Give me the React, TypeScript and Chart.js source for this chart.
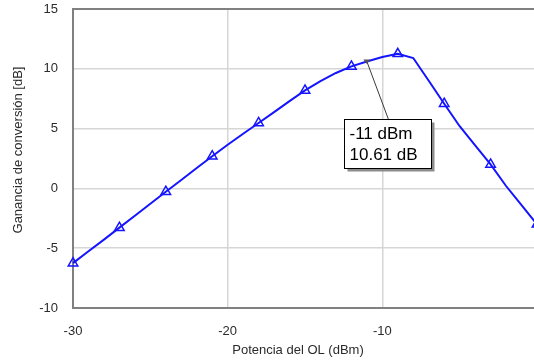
import React, { useEffect, useRef } from 'react';
import { Chart, registerables } from 'chart.js';

Chart.register(...registerables);

// LO power sweep (dBm) and measured conversion gain (dB)
const powerDbm = [
  -30, -29, -28, -27, -26, -25, -24, -23, -22, -21, -20, -19, -18, -17, -16,
  -15, -14, -13, -12, -11, -10, -9, -8, -7, -6, -5, -4, -3, -2, -1, 0,
];
const gainDb = [
  -6.25, -5.25, -4.28, -3.28, -2.28, -1.28, -0.28, 0.7, 1.7, 2.69, 3.65, 4.57,
  5.47, 6.38, 7.3, 8.19, 8.97, 9.65, 10.2, 10.61, 10.98, 11.25, 10.9, 9.0, 7.08,
  5.2, 3.6, 2.0, 0.2, -1.4, -3.0,
];

// a triangle marker every third sample
const markerEvery = 3;

const xTicks = [-30, -20, -10, 0];
const yTicks = [-10, -5, 0, 5, 10, 15];

// sample highlighted by the marker readout
const readoutPower = -11;

const xTitle = 'Potencia del OL (dBm)';
const yTitle = 'Ganancia de conversión [dB]';

const FONT = "'Liberation Sans', Arial, sans-serif";
const AXIS_COLOR = '#808080';
const GRID_COLOR = '#d6d6d6';
const TEXT_COLOR = '#2b2b2b';
const LINE_COLOR = '#1414ff';

const overlay = {
  id: 'overlay',
  afterDraw(chart: any) {
    const { ctx, scales } = chart;
    const xs = scales.x;
    const ys = scales.y;
    ctx.save();

    // axis titles
    ctx.fillStyle = TEXT_COLOR;
    ctx.font = `13px ${FONT}`;
    ctx.textAlign = 'center';
    ctx.textBaseline = 'middle';
    ctx.fillText(xTitle, 298, 350);
    ctx.save();
    ctx.translate(18, 150);
    ctx.rotate(-Math.PI / 2);
    ctx.fillText(yTitle, 0, 0);
    ctx.restore();

    // marker readout
    const idx = powerDbm.indexOf(readoutPower);
    const px = xs.getPixelForValue(powerDbm[idx]);
    const py = ys.getPixelForValue(gainDb[idx]);

    const bx = Math.round(px - 23) + 0.5;
    const by = Math.round(py + 57) + 0.5;
    const bw = 87;
    const bh = 49;

    // leader line
    ctx.strokeStyle = '#3a3a3a';
    ctx.lineWidth = 1;
    ctx.beginPath();
    ctx.moveTo(px, py);
    ctx.lineTo(bx + 44, by);
    ctx.stroke();

    // small marker at the read point
    ctx.fillStyle = '#555';
    ctx.beginPath();
    ctx.moveTo(px - 3.5, py - 2);
    ctx.lineTo(px + 3.5, py - 2);
    ctx.lineTo(px, py + 2.5);
    ctx.closePath();
    ctx.fill();

    // box shadow
    ctx.fillStyle = '#8c8c8c';
    ctx.fillRect(bx + 3, by + 3, bw, bh);
    // box
    ctx.fillStyle = '#ffffff';
    ctx.fillRect(bx, by, bw, bh);
    ctx.strokeStyle = '#000000';
    ctx.strokeRect(bx, by, bw, bh);

    ctx.fillStyle = '#000000';
    ctx.font = `17px ${FONT}`;
    ctx.textAlign = 'left';
    ctx.textBaseline = 'middle';
    ctx.fillText(`${powerDbm[idx]} dBm`, bx + 5, by + 15);
    ctx.fillText(`${gainDb[idx].toFixed(2)} dB`, bx + 5, by + 36);

    ctx.restore();
  },
};

export default function App() {
  const canvasRef = useRef<HTMLCanvasElement | null>(null);

  useEffect(() => {
    const canvas = canvasRef.current;
    if (!canvas) return;
    const chart = new Chart(canvas, {
      type: 'line',
      data: {
        datasets: [
          {
            data: powerDbm.map((p, i) => ({ x: p, y: gainDb[i] })),
            borderColor: LINE_COLOR,
            borderWidth: 2,
            tension: 0,
            fill: false,
            pointStyle: 'triangle',
            pointRadius: (c: any) => (c.dataIndex % markerEvery === 0 ? 5.5 : 0),
            pointBorderColor: LINE_COLOR,
            pointBackgroundColor: 'rgba(0,0,0,0)',
            pointBorderWidth: 1.5,
            clip: false as any,
          },
        ],
      },
      options: {
        animation: false,
        responsive: false,
        devicePixelRatio: 1,
        layout: { padding: { left: 0, right: 13, top: 9, bottom: 0 } },
        plugins: {
          legend: { display: false },
          tooltip: { enabled: false },
        },
        scales: {
          x: {
            type: 'linear',
            min: -30,
            max: 0,
            afterBuildTicks: (s: any) => {
              s.ticks = xTicks.map((v) => ({ value: v }));
            },
            afterFit: (s: any) => {
              s.height = 54;
            },
            grid: {
              color: GRID_COLOR,
              lineWidth: 1.5,
              drawTicks: true,
              tickLength: 15,
              tickColor: 'rgba(0,0,0,0)',
            },
            border: { color: AXIS_COLOR, width: 2 },
            ticks: {
              padding: 1,
              color: TEXT_COLOR,
              font: { family: FONT, size: 13 },
              maxRotation: 0,
            },
          },
          y: {
            type: 'linear',
            min: -10,
            max: 15,
            afterBuildTicks: (s: any) => {
              s.ticks = yTicks.map((v) => ({ value: v }));
            },
            afterFit: (s: any) => {
              s.width = 73;
            },
            grid: {
              color: (c: any) =>
                c.tick && c.tick.value === 15 ? AXIS_COLOR : GRID_COLOR,
              lineWidth: (c: any) => (c.tick && c.tick.value === 15 ? 2 : 1.5),
              drawTicks: true,
              tickLength: 14,
              tickColor: 'rgba(0,0,0,0)',
            },
            border: { color: AXIS_COLOR, width: 2 },
            ticks: {
              padding: 1,
              color: TEXT_COLOR,
              font: { family: FONT, size: 13 },
            },
          },
        },
      },
      plugins: [overlay],
    });
    return () => chart.destroy();
  }, []);

  return (
    <div
      style={{
        position: 'fixed',
        left: 0,
        top: 0,
        width: 534,
        height: 362,
        overflow: 'hidden',
        background: '#ffffff',
      }}
    >
      <canvas ref={canvasRef} width={550} height={362} style={{ display: 'block' }} />
    </div>
  );
}
